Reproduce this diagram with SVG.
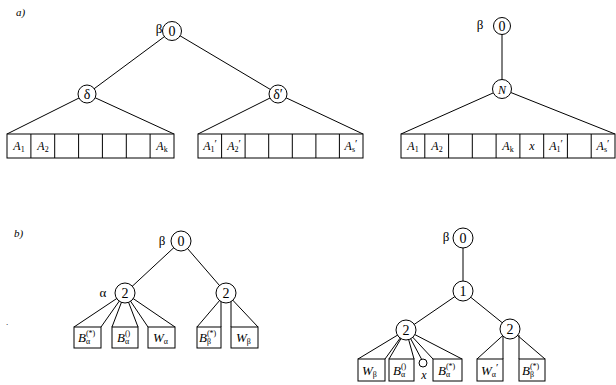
<svg xmlns="http://www.w3.org/2000/svg" width="616" height="385" viewBox="0 0 616 385" font-family="'Liberation Serif', 'DejaVu Serif', serif">
<style>
.e{stroke:#000;stroke-width:1;fill:none}
.c{fill:#fff;stroke:#000;stroke-width:1}
.r{fill:#fff;stroke:#000;stroke-width:1}
text{font-family:'Liberation Serif','DejaVu Serif',serif;fill:#000}
.d{font-size:14px;text-anchor:middle}
.g{font-size:13px;text-anchor:middle}
.a{font-size:12px;font-style:italic;text-anchor:middle}
.b{font-size:13px;font-style:italic}
.s{font-size:8px;font-style:normal}
.q{font-size:11px;font-style:normal}
.p{font-size:11px;font-style:italic}
</style>
<rect width="616" height="385" fill="#fff"/>
<text class="p" x="16" y="16">a)</text>
<text class="p" x="14" y="237">b)</text>
<text x="6" y="325" font-size="9">.</text>

<g id="connectors">
<line class="e" x1="172" y1="31" x2="87" y2="94"/>
<line class="e" x1="172" y1="31" x2="278" y2="94"/>
<line class="e" x1="87" y1="94" x2="7" y2="134"/>
<line class="e" x1="87" y1="94" x2="174" y2="134"/>
<line class="e" x1="278" y1="94" x2="198" y2="134"/>
<line class="e" x1="278" y1="94" x2="363" y2="134"/>
<line class="e" x1="502" y1="26" x2="502" y2="89"/>
<line class="e" x1="502" y1="89" x2="401" y2="134"/>
<line class="e" x1="502" y1="89" x2="615" y2="134"/>
<line class="e" x1="181" y1="241" x2="125" y2="293"/>
<line class="e" x1="181" y1="241" x2="226" y2="293"/>
<line class="e" x1="125" y1="293" x2="74" y2="327"/>
<line class="e" x1="125" y1="293" x2="101" y2="327"/>
<line class="e" x1="125" y1="293" x2="112" y2="327"/>
<line class="e" x1="125" y1="293" x2="138" y2="327"/>
<line class="e" x1="125" y1="293" x2="148" y2="327"/>
<line class="e" x1="125" y1="293" x2="175" y2="327"/>
<line class="e" x1="226" y1="293" x2="197" y2="327"/>
<line class="e" x1="221" y1="300" x2="221" y2="327"/>
<line class="e" x1="231" y1="300" x2="231" y2="327"/>
<line class="e" x1="226" y1="293" x2="258" y2="327"/>
<line class="e" x1="463" y1="238" x2="463" y2="291"/>
<line class="e" x1="463" y1="291" x2="406" y2="330"/>
<line class="e" x1="463" y1="291" x2="510" y2="329"/>
<line class="e" x1="406" y1="330" x2="358" y2="359"/>
<line class="e" x1="406" y1="330" x2="385" y2="359"/>
<line class="e" x1="406" y1="330" x2="389" y2="359"/>
<line class="e" x1="406" y1="330" x2="414" y2="359"/>
<line class="e" x1="406" y1="330" x2="422" y2="360"/>
<line class="e" x1="406" y1="330" x2="433" y2="359"/>
<line class="e" x1="406" y1="330" x2="462" y2="359"/>
<line class="e" x1="510" y1="329" x2="477" y2="359"/>
<line class="e" x1="503" y1="335" x2="503" y2="359"/>
<line class="e" x1="519" y1="335" x2="519" y2="359"/>
<line class="e" x1="510" y1="329" x2="545" y2="359"/>
</g>

<g id="a-left-root"><circle class="c" cx="172" cy="31" r="9.5"/><text class="d" x="172" y="36">0</text><text class="g" x="159" y="33">β</text></g>
<g id="a-left-delta"><circle class="c" cx="87" cy="94" r="9"/><text class="d" x="87" y="99">δ</text></g>
<g id="a-left-delta2"><circle class="c" cx="278" cy="94" r="9"/><text class="d" x="278" y="99">δ′</text></g>

<g id="a-row-left">
<rect class="r" x="7" y="134" width="167" height="24"/>
<path class="e" d="M30.9 134V158M54.7 134V158M78.6 134V158M102.4 134V158M126.3 134V158M150.1 134V158"/>
<text class="a" x="19" y="150">A<tspan class="s" dy="2">1</tspan></text>
<text class="a" x="43" y="150">A<tspan class="s" dy="2">2</tspan></text>
<text class="a" x="162" y="150">A<tspan class="s" dy="2">k</tspan></text>
</g>
<g id="a-row-right">
<rect class="r" x="198" y="134" width="165" height="24"/>
<path class="e" d="M221.6 134V158M245.1 134V158M268.7 134V158M292.3 134V158M315.9 134V158M339.4 134V158"/>
<text class="a" x="210" y="150">A<tspan class="s" dy="2">1</tspan><tspan class="q" dy="-5">′</tspan></text>
<text class="a" x="234" y="150">A<tspan class="s" dy="2">2</tspan><tspan class="q" dy="-5">′</tspan></text>
<text class="a" x="351" y="150">A<tspan class="s" dy="2">s</tspan><tspan class="q" dy="-5">′</tspan></text>
</g>

<g id="a-right-root"><circle class="c" cx="502" cy="26" r="8.5"/><text class="d" x="502" y="31">0</text><text class="g" x="480" y="29">β</text></g>
<g id="a-right-N"><circle class="c" cx="502" cy="89" r="9.5"/><text class="a" x="502" y="94" font-size="14">N</text></g>
<g id="a-row-merged">
<rect class="r" x="401" y="134" width="214" height="24"/>
<path class="e" d="M424.8 134V158M448.6 134V158M472.3 134V158M496.1 134V158M519.9 134V158M543.7 134V158M567.4 134V158M591.2 134V158"/>
<text class="a" x="413" y="150">A<tspan class="s" dy="2">1</tspan></text>
<text class="a" x="437" y="150">A<tspan class="s" dy="2">2</tspan></text>
<text class="a" x="508" y="150">A<tspan class="s" dy="2">k</tspan></text>
<text class="a" x="532" y="150">x</text>
<text class="a" x="556" y="150">A<tspan class="s" dy="2">1</tspan><tspan class="q" dy="-5">′</tspan></text>
<text class="a" x="603" y="150">A<tspan class="s" dy="2">s</tspan><tspan class="q" dy="-5">′</tspan></text>
</g>

<g id="b-left-root"><circle class="c" cx="181" cy="241" r="10"/><text class="d" x="181" y="246">0</text><text class="g" x="162" y="245">β</text></g>
<g id="b-left-alpha"><circle class="c" cx="125" cy="293" r="10"/><text class="d" x="125" y="298">2</text><text class="g" x="103" y="297">α</text></g>
<g id="b-left-2"><circle class="c" cx="226" cy="293" r="10"/><text class="d" x="226" y="298">2</text></g>
<g id="b-box1"><rect class="r" x="74" y="327" width="27" height="21"/><text class="b" x="78" y="342">B<tspan class="s" dy="-6">(*)</tspan><tspan class="s" dx="-9.3" dy="8">α</tspan></text></g>
<g id="b-box2"><rect class="r" x="112" y="327" width="26" height="21"/><text class="b" x="117" y="342">B<tspan class="s" dy="-6">()</tspan><tspan class="s" dx="-5.3" dy="8">α</tspan></text></g>
<g id="b-box3"><rect class="r" x="148" y="327" width="27" height="21"/><text class="b" x="153" y="342">W<tspan class="s" dy="2">α</tspan></text></g>
<g id="b-box4"><rect class="r" x="197" y="327" width="24" height="21"/><text class="b" x="199" y="342">B<tspan class="s" dy="-6">(*)</tspan><tspan class="s" dx="-9.3" dy="8">β</tspan></text></g>
<g id="b-box5"><rect class="r" x="231" y="327" width="27" height="21"/><text class="b" x="236" y="342">W<tspan class="s" dy="2">β</tspan></text></g>

<g id="b-right-root"><circle class="c" cx="463" cy="238" r="10"/><text class="d" x="463" y="243">0</text><text class="g" x="446" y="241">β</text></g>
<g id="b-right-1"><circle class="c" cx="463" cy="291" r="10"/><text class="d" x="463" y="296">1</text></g>
<g id="b-right-2a"><circle class="c" cx="406" cy="330" r="10"/><text class="d" x="406" y="335">2</text></g>
<g id="b-right-2b"><circle class="c" cx="510" cy="329" r="10"/><text class="d" x="510" y="334">2</text></g>
<g id="b-rbox1"><rect class="r" x="358" y="359" width="27" height="22"/><text class="b" x="362" y="375">W<tspan class="s" dy="2">β</tspan></text></g>
<g id="b-rbox2"><rect class="r" x="389" y="359" width="25" height="22"/><text class="b" x="393" y="375">B<tspan class="s" dy="-6">()</tspan><tspan class="s" dx="-5.3" dy="8">α</tspan></text></g>
<g id="b-rx"><circle class="c" cx="423" cy="363" r="4"/><text class="a" x="424" y="379">x</text></g>
<g id="b-rbox3"><rect class="r" x="433" y="359" width="29" height="22"/><text class="b" x="438" y="375">B<tspan class="s" dy="-6">(*)</tspan><tspan class="s" dx="-9.3" dy="8">α</tspan></text></g>
<g id="b-rbox4"><rect class="r" x="477" y="359" width="26" height="22"/><text class="b" x="481" y="375">W<tspan class="s" dy="2">α</tspan><tspan class="q" dy="-6">′</tspan></text></g>
<g id="b-rbox5"><rect class="r" x="519" y="359" width="26" height="22"/><text class="b" x="522" y="375">B<tspan class="s" dy="-6">(*)</tspan><tspan class="s" dx="-9.3" dy="8">β</tspan></text></g>
</svg>
